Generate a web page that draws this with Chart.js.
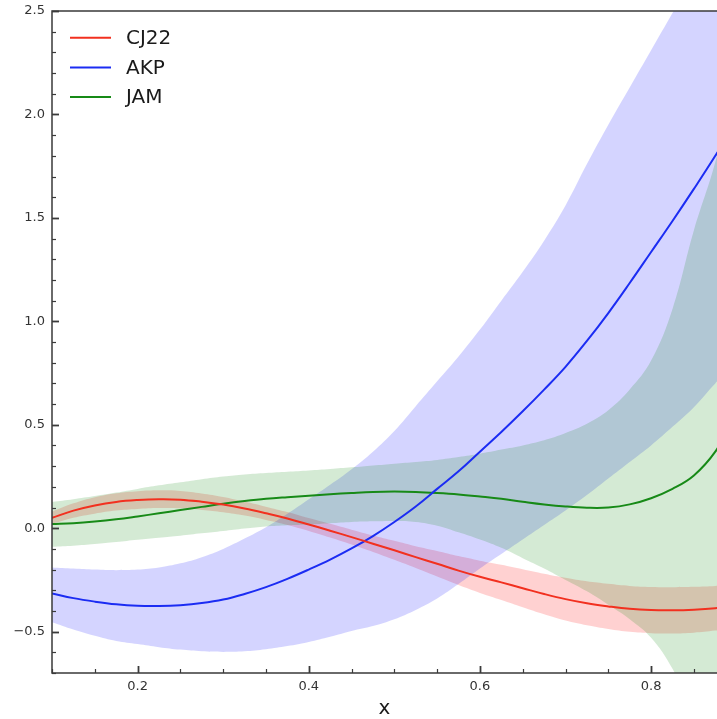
<!DOCTYPE html>
<html>
<head>
<meta charset="utf-8">
<script src="https://cdn.jsdelivr.net/npm/chart.js@4.4.1/dist/chart.umd.min.js"></script>
<style>
  html, body { margin: 0; padding: 0; background: #ffffff; overflow: hidden; }
  #wrap { width: 717px; height: 719px; position: relative; }
</style>
</head>
<body>
<div id="wrap"><canvas id="c" width="717" height="719"></canvas></div>
<script>
// x grid shared by every curve
const xs = [0.1, 0.125, 0.15, 0.175, 0.2, 0.225, 0.25, 0.275, 0.3, 0.325,
            0.35, 0.375, 0.4, 0.425, 0.45, 0.475, 0.5, 0.525, 0.55, 0.575,
            0.6, 0.625, 0.65, 0.675, 0.7, 0.725, 0.75, 0.775, 0.8, 0.825,
            0.85, 0.875, 0.9];

// CJ22 central value and uncertainty band
const cj22 = [0.05, 0.085, 0.11, 0.127, 0.136, 0.14, 0.138, 0.128, 0.114, 0.095,
              0.072, 0.047, 0.018, -0.012, -0.043, -0.075, -0.107, -0.14, -0.172, -0.205,
              -0.235, -0.262, -0.29, -0.318, -0.343, -0.363, -0.378, -0.39, -0.396, -0.397,
              -0.394, -0.387, -0.375];
const cj22Upper = [0.08, 0.12, 0.15, 0.169, 0.179, 0.183, 0.18, 0.168, 0.151, 0.129,
                   0.104, 0.078, 0.049, 0.021, -0.007, -0.035, -0.061, -0.087, -0.11, -0.135,
                   -0.157, -0.177, -0.198, -0.22, -0.24, -0.257, -0.269, -0.279, -0.284, -0.285,
                   -0.283, -0.279, -0.27];
const cj22Lower = [0.02, 0.05, 0.07, 0.085, 0.093, 0.097, 0.096, 0.088, 0.077, 0.061,
                   0.04, 0.016, -0.013, -0.045, -0.079, -0.115, -0.153, -0.193, -0.234, -0.275,
                   -0.313, -0.347, -0.382, -0.416, -0.446, -0.469, -0.487, -0.501, -0.508, -0.509,
                   -0.505, -0.495, -0.48];

// AKP central value and uncertainty band
const akp = [-0.315, -0.338, -0.355, -0.368, -0.375, -0.376, -0.372, -0.362, -0.345, -0.318,
             -0.285, -0.245, -0.2, -0.152, -0.098, -0.038, 0.03, 0.105, 0.19, 0.275,
             0.37, 0.465, 0.565, 0.67, 0.78, 0.905, 1.04, 1.185, 1.335, 1.485,
             1.64, 1.8, 1.97];
const akpUpper = [-0.19, -0.195, -0.2, -0.203, -0.2, -0.19, -0.17, -0.14, -0.1, -0.05,
                  0.005, 0.07, 0.14, 0.21, 0.285, 0.37, 0.47, 0.59, 0.71, 0.83,
                  0.96, 1.1, 1.24, 1.39, 1.56, 1.76, 1.95, 2.13, 2.31, 2.49,
                  2.67, 2.86, 3.05];
const akpLower = [-0.455, -0.49, -0.52, -0.545, -0.56, -0.575, -0.587, -0.595, -0.598, -0.595,
                  -0.585, -0.57, -0.55, -0.525, -0.497, -0.473, -0.44, -0.395, -0.34, -0.27,
                  -0.195, -0.125, -0.055, 0.015, 0.085, 0.16, 0.24, 0.32, 0.4, 0.49,
                  0.585, 0.7, 0.8];

// JAM central value and uncertainty band
const jam = [0.02, 0.024, 0.032, 0.043, 0.057, 0.072, 0.088, 0.103, 0.118, 0.131,
             0.142, 0.15, 0.157, 0.164, 0.17, 0.175, 0.177, 0.175, 0.17, 0.163,
             0.153, 0.142, 0.128, 0.115, 0.105, 0.099, 0.1, 0.115, 0.145, 0.19,
             0.255, 0.37, 0.55];
const jamUpper = [0.127, 0.14, 0.155, 0.172, 0.19, 0.207, 0.222, 0.237, 0.25, 0.26,
                  0.267, 0.273, 0.279, 0.286, 0.294, 0.303, 0.312, 0.32, 0.33, 0.344,
                  0.36, 0.38, 0.4, 0.425, 0.46, 0.505, 0.57, 0.67, 0.81, 1.06,
                  1.44, 1.77, 2.2];
const jamLower = [-0.09, -0.085, -0.077, -0.067, -0.056, -0.046, -0.036, -0.025, -0.014, -0.002,
                  0.008, 0.014, 0.018, 0.024, 0.03, 0.033, 0.035, 0.03, 0.012, -0.02,
                  -0.055, -0.095, -0.145, -0.195, -0.25, -0.305, -0.37, -0.44, -0.53, -0.68,
                  -0.9, -1.05, -1.2];

const seriesNames = ['CJ22', 'AKP', 'JAM'];

// axis ticks and their labels
const xMajorTicks = [0.2, 0.4, 0.6, 0.8];
const xTickLabels = ['0.2', '0.4', '0.6', '0.8'];
const yMajorTicks = [-0.5, 0, 0.5, 1.0, 1.5, 2.0, 2.5];
const yTickLabels = ['\u22120.5', '0.0', '0.5', '1.0', '1.5', '2.0', '2.5'];

const lineColors = ['#f2301f', '#1b2cf3', '#178a17'];
const bandColors = ['rgba(255,0,0,0.18)', 'rgba(0,0,255,0.17)', 'rgba(0,128,0,0.17)'];
const axisColor = '#3a3a3a';
const FONT = "'DejaVu Sans', 'Liberation Sans', sans-serif";

const pts = arr => xs.map((x, i) => ({ x: x, y: arr[i] }));

function band(name, up, low, color) {
  return [
    { label: name + ' band', data: pts(up), borderWidth: 0, pointRadius: 0,
      fill: '+1', backgroundColor: color, order: 1 },
    { label: name + ' band lower', data: pts(low), borderWidth: 0, pointRadius: 0,
      fill: false, order: 1 }
  ];
}
function curve(name, vals, color) {
  return { label: name, data: pts(vals), borderColor: color, borderWidth: 2, pointRadius: 0,
           fill: false, order: 0 };
}

// bands: JAM painted last (on top), CJ22 first
const datasets = [
  ...band('JAM', jamUpper, jamLower, bandColors[2]),
  ...band('AKP', akpUpper, akpLower, bandColors[1]),
  ...band('CJ22', cj22Upper, cj22Lower, bandColors[0]),
  curve('CJ22', cj22, lineColors[0]),
  curve('AKP', akp, lineColors[1]),
  curve('JAM', jam, lineColors[2])
];

// frame plus inward major/minor tick marks
const framePlugin = {
  id: 'frame',
  afterDraw(chart) {
    const { ctx, chartArea: { left, right, top, bottom }, scales: { x, y } } = chart;
    ctx.save();
    ctx.strokeStyle = axisColor;
    ctx.lineWidth = 1.5;
    ctx.beginPath();
    ctx.moveTo(right + 2, top);
    ctx.lineTo(left, top);
    ctx.lineTo(left, bottom);
    ctx.lineTo(right + 2, bottom);
    ctx.stroke();

    for (let i = -7; i <= 25; i++) {
      const py = Math.round(y.getPixelForValue(i / 10)) + 0.5;
      const major = (i % 5 === 0);
      ctx.lineWidth = major ? 1.8 : 1.2;
      ctx.beginPath();
      ctx.moveTo(left, py);
      ctx.lineTo(left + (major ? 7 : 4), py);
      ctx.stroke();
    }
    for (let i = 2; i <= 17; i++) {
      const px = Math.round(x.getPixelForValue(i * 0.05)) + 0.5;
      if (px > right) continue;
      const major = (i % 4 === 0);
      ctx.lineWidth = major ? 1.8 : 1.2;
      ctx.beginPath();
      ctx.moveTo(px, bottom);
      ctx.lineTo(px, bottom - (major ? 7 : 4));
      ctx.stroke();
    }
    ctx.restore();
  }
};

// legend in the upper-left corner of the plot
const legendPlugin = {
  id: 'cornerLegend',
  afterDraw(chart) {
    const { ctx, chartArea: { left, top } } = chart;
    ctx.save();
    ctx.font = '20px ' + FONT;
    ctx.textBaseline = 'middle';
    ctx.textAlign = 'left';
    seriesNames.forEach((name, i) => {
      const yy = top + 26.7 + i * 29.7;
      ctx.strokeStyle = lineColors[i];
      ctx.lineWidth = 2;
      ctx.beginPath();
      ctx.moveTo(left + 18, yy);
      ctx.lineTo(left + 59, yy);
      ctx.stroke();
      ctx.fillStyle = '#1a1a1a';
      ctx.fillText(name, left + 74, yy + 1);
    });
    ctx.restore();
  }
};

new Chart(document.getElementById('c'), {
  type: 'line',
  data: { datasets: datasets },
  plugins: [framePlugin, legendPlugin],
  options: {
    responsive: false,
    animation: false,
    devicePixelRatio: 1,
    layout: { padding: { top: 11, right: 0, left: 0, bottom: 0 } },
    plugins: { legend: { display: false }, tooltip: { enabled: false } },
    elements: { line: { tension: 0.4 } },
    scales: {
      x: {
        type: 'linear', min: 0.1, max: 0.877,
        grid: { display: false, drawTicks: false },
        border: { display: false },
        afterBuildTicks: s => { s.ticks = xMajorTicks.map(v => ({ value: v })); },
        afterFit: s => { s.height = 46; s.paddingLeft = 0; s.paddingRight = 0; },
        ticks: {
          padding: 6, color: '#333333', font: { family: FONT, size: 13 },
          maxRotation: 0, autoSkip: false,
          callback: v => { const k = xMajorTicks.findIndex(t => Math.abs(t - v) < 1e-9); return k >= 0 ? xTickLabels[k] : ''; }
        },
        title: { display: true, text: 'x', color: '#1a1a1a',
                 font: { family: FONT, size: 20, lineHeight: 1 }, padding: { top: 0, bottom: 0 } }
      },
      y: {
        type: 'linear', min: -0.7, max: 2.5,
        grid: { display: false, drawTicks: false },
        border: { display: false },
        afterBuildTicks: s => { s.ticks = yMajorTicks.map(v => ({ value: v })); },
        afterFit: s => { s.width = 52; s.paddingTop = 0; s.paddingBottom = 0; },
        ticks: {
          padding: 7, color: '#333333', font: { family: FONT, size: 13 },
          autoSkip: false,
          callback: v => { const k = yMajorTicks.findIndex(t => Math.abs(t - v) < 1e-9); return k >= 0 ? yTickLabels[k] : ''; }
        }
      }
    }
  }
});
</script>
</body>
</html>
